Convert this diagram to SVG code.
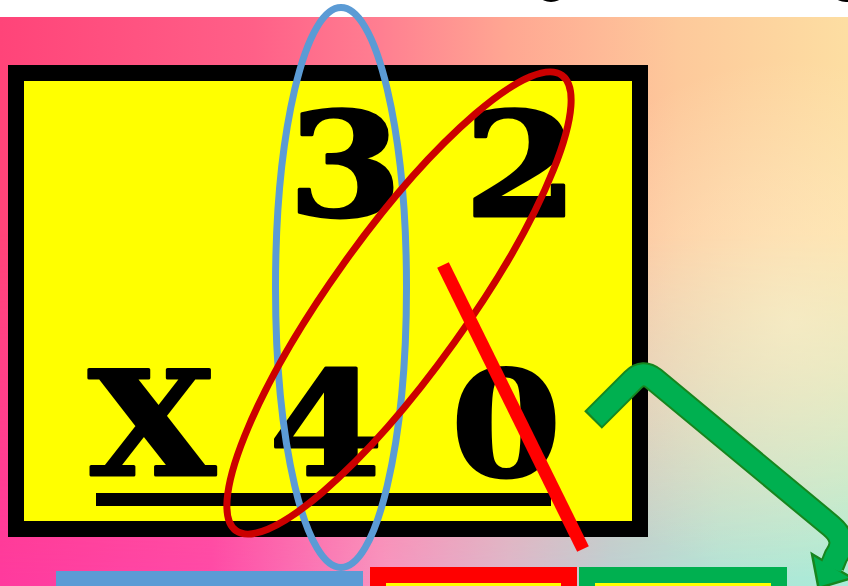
<svg xmlns="http://www.w3.org/2000/svg" width="848" height="586" viewBox="0 0 848 586">
  <defs>
    <linearGradient id="gTop" x1="0" y1="0" x2="1" y2="0">
      <stop offset="0" stop-color="#ff4479"/>
      <stop offset="0.3" stop-color="#ff6088"/>
      <stop offset="0.45" stop-color="#ff7f91"/>
      <stop offset="0.6" stop-color="#ffa792"/>
      <stop offset="0.8" stop-color="#fdc99b"/>
      <stop offset="1" stop-color="#fddea2"/>
    </linearGradient>
    <linearGradient id="gBot" x1="0" y1="0" x2="1" y2="0">
      <stop offset="0" stop-color="#ff3a9e"/>
      <stop offset="0.25" stop-color="#ff4aa8"/>
      <stop offset="0.45" stop-color="#f894c0"/>
      <stop offset="0.6" stop-color="#dcb8cc"/>
      <stop offset="0.72" stop-color="#bcd0d4"/>
      <stop offset="0.85" stop-color="#b0e4d8"/>
      <stop offset="1" stop-color="#a8ecd8"/>
    </linearGradient>
    <linearGradient id="gFade" x1="0" y1="0" x2="0" y2="1">
      <stop offset="0" stop-color="#fff" stop-opacity="0"/>
      <stop offset="0.38" stop-color="#fff" stop-opacity="0"/>
      <stop offset="1" stop-color="#fff" stop-opacity="1"/>
    </linearGradient>
    <mask id="mFade" maskUnits="userSpaceOnUse" x="0" y="0" width="848" height="586">
      <rect x="0" y="17" width="848" height="569" fill="url(#gFade)"/>
    </mask>
    <radialGradient id="gCream" cx="790" cy="320" r="260" gradientUnits="userSpaceOnUse">
      <stop offset="0" stop-color="#fff6d4" stop-opacity="0.55"/>
      <stop offset="0.5" stop-color="#fff3d4" stop-opacity="0.3"/>
      <stop offset="1" stop-color="#fff3d4" stop-opacity="0"/>
    </radialGradient>
    <style>
      .num { font-family: "DejaVu Serif", "Liberation Serif", serif; font-weight: bold; font-size: 144px; fill: #000; stroke: #000; stroke-width: 3; stroke-linejoin: round; text-anchor: middle; }
      .ring { fill: none; stroke-width: 7; }
      .box { stroke-width: 16; fill: #ffff00; }
      .arrowOut { fill: none; stroke: #17861f; stroke-width: 25; stroke-linejoin: round; }
      .arrowIn { fill: none; stroke: #00b050; stroke-width: 21; stroke-linejoin: round; }
    </style>
  </defs>

  <g id="background">
    <rect x="0" y="0" width="848" height="586" fill="#ffffff"/>
    <rect x="0" y="17" width="848" height="569" fill="url(#gTop)"/>
    <rect x="0" y="17" width="848" height="569" fill="url(#gBot)" mask="url(#mFade)"/>
    <rect x="0" y="17" width="848" height="569" fill="url(#gCream)"/>
    <ellipse cx="551" cy="-3" rx="10" ry="5" fill="#000"/>
    <ellipse cx="846" cy="-3" rx="10" ry="5" fill="#000"/>
  </g>

  <g id="problem-box">
    <rect x="16" y="73" width="624" height="456" fill="#ffff00" stroke="#000" stroke-width="16"/>
    <text class="num" transform="translate(345,216) scale(1.14,1)">3</text>
    <text class="num" transform="translate(521,216) scale(1.14,1)">2</text>
    <text class="num" transform="translate(152,475) scale(1.14,1)">X</text>
    <text class="num" transform="translate(326,475) scale(1.14,1)">4</text>
    <text class="num" transform="translate(506,476) scale(1.1,1.02)">0</text>
    <rect x="96" y="493" width="455" height="13" fill="#000"/>
  </g>

  <g id="blue-box">
    <rect x="56" y="571" width="307" height="40" fill="#5b9bd5"/>
  </g>
  <g id="red-box">
    <rect x="378" y="575" width="191" height="40" class="box" stroke="#ff0000"/>
  </g>
  <g id="green-box">
    <rect x="587" y="575" width="192" height="40" class="box" stroke="#00b050"/>
  </g>

  <g id="annotations">
    <ellipse cx="341" cy="287.5" rx="65.5" ry="280" class="ring" stroke="#5b9bd5"/>
    <ellipse cx="399" cy="303" rx="280" ry="68" class="ring" stroke="#cc0000" transform="rotate(-54.4 399 303)"/>
    <line x1="443" y1="265" x2="583" y2="549" stroke="#ff0000" stroke-width="13"/>
  </g>

  <g id="connectors">
    <path class="arrowOut" d="M593,420 L633,380 Q643,370 654,379 L831,526 Q848,540 836,556 L832,566"/>
    <polygon points="812,554 852,578 818.5,588" fill="#00b050" stroke="#17861f" stroke-width="2.5" stroke-linejoin="miter"/>
    <path class="arrowIn" d="M594.5,418.5 L633,380 Q643,370 654,379 L831,526 Q848,540 836,556 L831,568"/>
  </g>
</svg>
